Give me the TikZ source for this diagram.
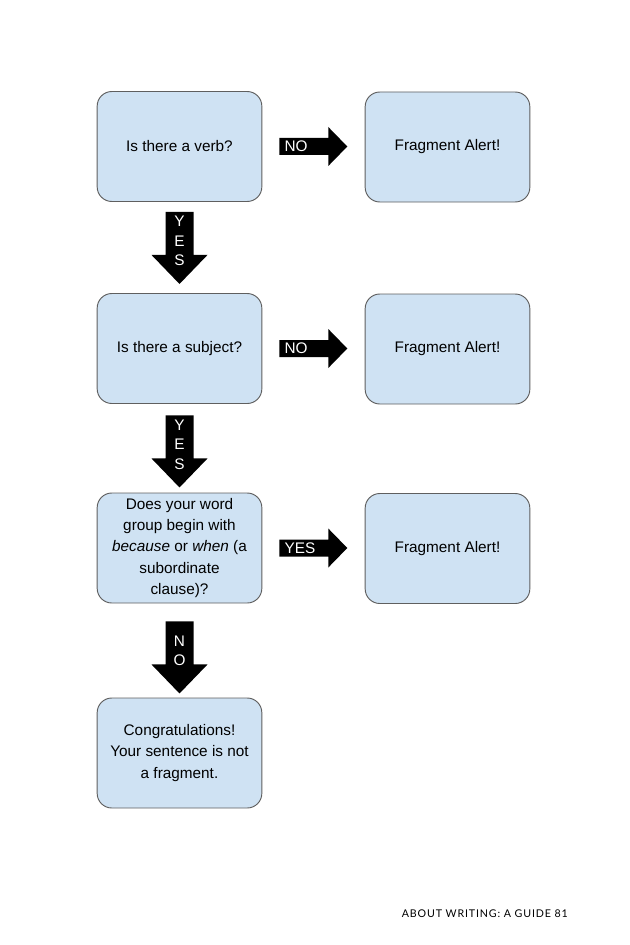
\documentclass[tikz,border=0pt]{standalone}
\usepackage{fontspec}
\setmainfont{Liberation Sans}
\newfontfamily\footfont[LetterSpace=8]{Lato}
\usetikzlibrary{calc}
\definecolor{boxblue}{HTML}{CFE2F3}
\definecolor{boxline}{HTML}{5F5F5F}
\tikzset{
  qbox/.style={draw=boxline, line width=.7pt, fill=boxblue, rounded corners=11pt,
    minimum width=123.5pt, minimum height=82.5pt, align=center,
    font=\fontsize{11.5}{16.1}\selectfont},
  lab/.style={text=white, inner sep=0pt, font=\fontsize{11.5}{14.5}\selectfont}
}
\begin{document}
\begin{tikzpicture}[x=.75pt, y=-.75pt]
\useasboundingbox (0,0) rectangle (630,945);
% questions on the left, alerts on the right
\node[qbox] (q1) at (179.5,146.5) {Is there a verb?};
\node[qbox] (q2) at (179.5,348.5) {Is there a subject?};
\node[qbox] (q3) at (179.5,548) {Does your word\\group begin with\\\textit{because} or \textit{when} (a\\subordinate\\clause)?};
\node[qbox] (q4) at (179.5,753) {Congratulations!\\Your sentence is not\\a fragment.};
\node[qbox] (a1) at (447.5,147) {Fragment Alert!};
\node[qbox] (a2) at (447.5,349) {Fragment Alert!};
\node[qbox] (a3) at (447.5,548.5) {Fragment Alert!};

\foreach \src/\lab in {q1/NO, q2/NO, q3/YES}
{
    \fill ($(\src.east)+(17,-8.5)$) -- ++(49,0) -- ++(0,-11) -- ++(19,19.5)
        -- ++(-19,19.5) -- ++(0,-11) -- ++(-49,0) -- cycle;
    \node[lab, anchor=west] (r-\src) at ($(\src.east)+(22,0)$) {\lab};
}
\foreach \src/\gap/\lab in {q1/10/{Y\\E\\S}, q2/11.5/{Y\\E\\S}, q3/18/{N\\O}}
{
    \fill ($(\src.south)+(-14,\gap)$) -- ++(28,0) -- ++(0,43) -- ++(14,0)
        -- ++(-28,29) -- ++(-28,-29) -- ++(14,0) -- cycle;
    \node[lab, align=center] (d-\src) at ($(\src.south)+(0,\gap+29)$) {\lab};
}

\node[anchor=east, inner sep=0pt, font=\footfont\fontsize{8}{10}\selectfont] (footer) at (568,914) {ABOUT WRITING: A GUIDE 81};
\end{tikzpicture}
\end{document}
